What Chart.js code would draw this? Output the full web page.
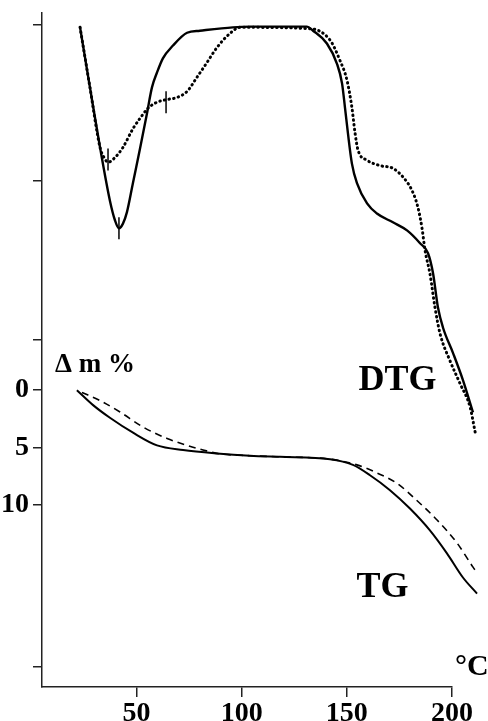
<!DOCTYPE html>
<html>
<head>
<meta charset="utf-8">
<script src="https://cdn.jsdelivr.net/npm/chart.js@4/dist/chart.umd.min.js"></script>
<style>
  html, body { margin: 0; padding: 0; background: #fff; }
  #wrap { width: 488px; height: 721px; }
</style>
</head>
<body>
<div id="wrap"><canvas id="c" width="488" height="721"></canvas></div>
<script>
// Temperature axis ticks (°C)
const tempTicks = [50, 100, 150, 200];
// Labelled mass-loss ticks (Δm %)
const massTicks = [0, 5, 10];
// Unlabelled tick marks on the left axis (in Δm % axis units)
const plainTicks = [-31.8, -18.2, -4.35, 24.1];

// DTG, solid curve (temperature °C, DTG arbitrary units)
const dtgSolidT = [23.1, 27.8, 32.6, 37.3, 39.7, 41.6, 43.5, 45.4, 48.3, 51.6, 54.9, 57.3, 59.7, 62.5, 67.3, 74.0, 80.1, 95.8, 103.9, 131.0, 133.9, 140.5, 145.3, 147.7, 149.1, 150.5, 152.4, 154.8, 159.6, 164.3, 171.9, 178.6, 184.8, 188.6, 191.0, 193.3, 195.7, 200.5, 205.2, 210.0];
const dtgSolidV = [-0.2, -9.1, -18.0, -25.9, -28.8, -30.0, -29.3, -27.6, -23.2, -18.2, -13.0, -9.1, -6.9, -4.8, -2.9, -1.0, -0.7, -0.2, -0.1, -0.1, -0.7, -2.6, -5.6, -8.5, -12.1, -15.9, -20.4, -23.3, -26.3, -27.8, -29.1, -30.3, -32.2, -33.7, -36.7, -41.7, -44.7, -48.5, -52.5, -57.3];

// DTG, dotted curve
const dtgDotT = [23.1, 27.8, 32.6, 34.5, 36.4, 39.7, 43.5, 48.3, 51.6, 55.4, 59.7, 64.5, 69.2, 74.0, 78.7, 83.5, 88.2, 94.4, 99.2, 132.5, 142.0, 146.7, 150.1, 152.4, 153.9, 155.3, 159.6, 165.8, 171.9, 176.7, 181.0, 183.8, 185.7, 187.2, 189.5, 191.9, 194.3, 199.0, 203.8, 208.6, 211.0];
const dtgDotV = [-0.2, -9.1, -18.0, -19.5, -20.2, -19.5, -18.0, -15.2, -13.7, -12.2, -11.3, -10.9, -10.6, -9.7, -7.6, -5.4, -3.2, -1.1, -0.2, -0.4, -2.1, -5.1, -8.1, -12.1, -15.9, -18.4, -19.9, -20.7, -21.1, -22.4, -24.4, -26.9, -29.9, -33.3, -36.7, -41.7, -45.6, -49.6, -53.0, -56.5, -60.2];

// TG, solid curve (Δm %)
const tgSolidT = [21.6, 29.3, 37.3, 48.3, 59.7, 72.1, 88.2, 103.9, 118.2, 142.0, 152.9, 161.0, 170.5, 180.0, 189.5, 197.6, 205.2, 211.9];
const tgSolidV = [0.0, 1.3, 2.4, 3.7, 4.8, 5.2, 5.5, 5.7, 5.8, 6.0, 6.5, 7.4, 8.7, 10.3, 12.2, 14.2, 16.3, 17.7];

// TG, dashed curve (Δm %)
const tgDashT = [24.0, 32.6, 42.1, 53.0, 64.5, 74.0, 81.6, 88.2, 103.9, 118.2, 142.0, 154.8, 164.3, 173.8, 183.3, 192.9, 202.4, 210.0, 211.9];
const tgDashV = [0.2, 0.9, 1.9, 3.2, 4.2, 4.8, 5.2, 5.5, 5.7, 5.8, 6.0, 6.5, 7.2, 8.1, 9.6, 11.3, 13.3, 15.4, 15.9];

// Peak markers on DTG curves
const markT = [36.4, 64.0, 41.6];
const markV = [-19.8, -11.3, -30.0];

// Axis extents
const tempMin = 5, tempMax = 200;
const massMin = -32.87, massMax = 25.83;
const dtgMin = -98, dtgMax = 2;

const pts = (xs, ys) => xs.map((x, i) => ({ x: x, y: ys[i] }));

const SERIF = '"Liberation Serif", "DejaVu Serif", serif';

const notes = [
  { text: 'Δ m %', x: 11.2, y: -2.17, align: 'left', size: 27 },
  { text: 'DTG', x: 174.1, y: -0.83, align: 'center', size: 36 },
  { text: 'TG', x: 167.0, y: 17.2, align: 'center', size: 36 },
  { text: '°C', x: 201.4, y: 24.1, align: 'left', size: 30 }
];

const notePlugin = {
  id: 'notes',
  afterDatasetsDraw(chart) {
    const ctx = chart.ctx;
    const xs = chart.scales.x, ys = chart.scales.y;
    ctx.save();
    ctx.fillStyle = '#000';
    ctx.textBaseline = 'middle';
    notes.forEach(n => {
      ctx.font = 'bold ' + n.size + 'px ' + SERIF;
      ctx.textAlign = n.align;
      ctx.fillText(n.text, xs.getPixelForValue(n.x), ys.getPixelForValue(n.y));
    });
    ctx.restore();
  }
};

const lineBase = { pointRadius: 0, fill: false, clip: false, cubicInterpolationMode: 'monotone', borderColor: '#000' };

new Chart(document.getElementById('c'), {
  type: 'line',
  data: {
    datasets: [
      Object.assign({}, lineBase, { label: 'DTG solid', data: pts(dtgSolidT, dtgSolidV), yAxisID: 'yD', borderWidth: 2.4 }),
      Object.assign({}, lineBase, { label: 'DTG dotted', data: pts(dtgDotT, dtgDotV), yAxisID: 'yD', borderWidth: 3, borderDash: [0.5, 4.2], borderCapStyle: 'round' }),
      Object.assign({}, lineBase, { label: 'TG solid', data: pts(tgSolidT, tgSolidV), yAxisID: 'y', borderWidth: 2 }),
      Object.assign({}, lineBase, { label: 'TG dashed', data: pts(tgDashT, tgDashV), yAxisID: 'y', borderWidth: 1.6, borderDash: [7, 5] }),
      { type: 'scatter', label: 'marks', data: pts(markT, markV), yAxisID: 'yD', showLine: false, clip: false,
        pointStyle: 'line', rotation: 90, pointRadius: 11, pointBorderWidth: 1.5, pointBorderColor: '#000', pointBackgroundColor: '#000' }
    ]
  },
  options: {
    responsive: false,
    animation: false,
    devicePixelRatio: 1,
    layout: { padding: { top: 12, right: 36, bottom: 0, left: 0 } },
    plugins: { legend: { display: false }, tooltip: { enabled: false } },
    scales: {
      x: {
        type: 'linear', bounds: 'data',
        afterDataLimits: s => { s.min = tempMin; s.max = tempMax; },
        afterBuildTicks: s => { s.min = tempMin; s.max = tempMax; s.ticks = tempTicks.map(v => ({ value: v })); },
        afterFit: s => { s.height = 34; s.paddingLeft = 0; s.paddingRight = 0; },
        grid: { drawOnChartArea: false, drawTicks: true, tickLength: 10, color: '#222', lineWidth: 1.5 },
        border: { display: true, color: '#222', width: 1.5 },
        ticks: { color: '#000', font: { family: SERIF, weight: 'bold', size: 28 }, padding: 0, maxRotation: 0, autoSkip: false }
      },
      y: {
        type: 'linear', position: 'left', reverse: true, min: massMin, max: massMax,
        afterBuildTicks: s => { s.ticks = plainTicks.concat(massTicks).sort((a, b) => a - b).map(v => ({ value: v })); },
        afterFit: s => { s.width = 42; s.paddingTop = 0; s.paddingBottom = 0; },
        grid: { drawOnChartArea: false, drawTicks: true, tickLength: 9, color: '#222', lineWidth: 1.5 },
        border: { display: true, color: '#222', width: 1.5 },
        ticks: { color: '#000', font: { family: SERIF, weight: 'bold', size: 28 }, padding: 4, autoSkip: false,
          callback: v => massTicks.includes(v) ? String(v) : '' }
      },
      yD: { type: 'linear', display: false, min: dtgMin, max: dtgMax }
    }
  },
  plugins: [notePlugin]
});
</script>
</body>
</html>
